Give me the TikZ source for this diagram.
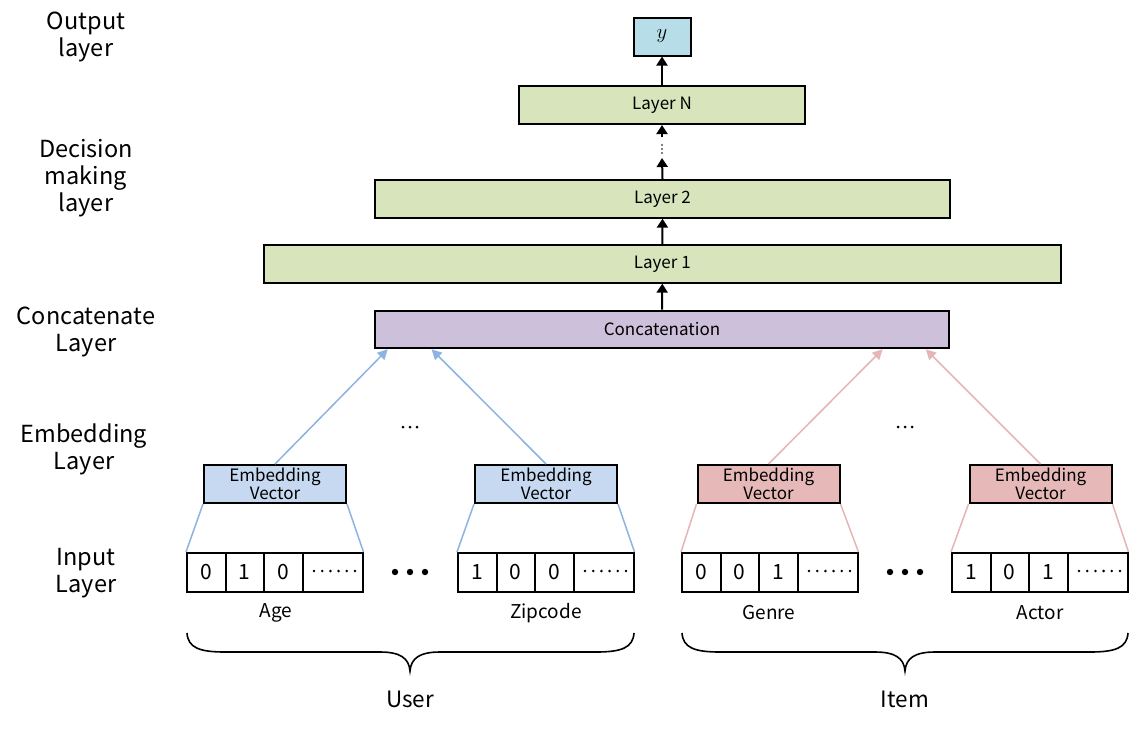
\documentclass[tikz,border=0pt]{standalone}
\usepackage{fontspec}
\setmainfont{Noto Sans CJK KR}
\usetikzlibrary{arrows.meta,calc}
\definecolor{greenbox}{HTML}{D8E4BC}
\definecolor{outbox}{HTML}{B7DEE8}
\definecolor{purplebox}{HTML}{CCC0DA}
\definecolor{embblue}{HTML}{C6D9F1}
\definecolor{embred}{HTML}{E6B9B8}
\definecolor{lineblue}{HTML}{8DB3E2}
\definecolor{linered}{HTML}{E6B5B5}
\begin{document}
\begin{tikzpicture}[x=1pt,y=-1pt,
  box/.style={draw=black,line width=2pt,inner sep=0pt,anchor=center,
    font=\fontsize{17}{19}\selectfont},
  embbox/.style={box,minimum width=142pt,minimum height=38pt,align=center,
    font=\fontsize{17}{18.5}\selectfont},
  cell/.style={draw=black,line width=2pt,inner sep=0pt,minimum height=39pt,
    font=\fontsize{21}{24}\selectfont},
  sidelabel/.style={align=center,inner sep=0pt,font=\fontsize{23.5}{27}\selectfont},
  featlabel/.style={inner sep=0pt,font=\fontsize{19}{21}\selectfont},
  grouplabel/.style={inner sep=0pt,font=\fontsize{22.5}{25}\selectfont},
  blackarrow/.style={draw=black,line width=2pt,-{Triangle[length=9pt,width=11pt]}},
  bluearrow/.style={draw=lineblue,line width=1.5pt,-{Triangle[length=10pt,width=10pt]}},
  redarrow/.style={draw=linered,line width=1.5pt,-{Triangle[length=10pt,width=10pt]}},
  blueline/.style={draw=lineblue,line width=1.5pt},
  redline/.style={draw=linered,line width=1.5pt},
  bracepath/.style={draw=black,line width=1.6pt}
]
\fill[white] (0,0) rectangle (1137,729);
\useasboundingbox (0,0) rectangle (1137,729);

% side labels
\node[sidelabel] (lout) at (86,37) {Output\\layer};
\node[sidelabel] (ldec) at (86,178) {Decision\\making\\layer};
\node[sidelabel] (lcat) at (86,332) {Concatenate\\Layer};
\node[sidelabel] (lemb) at (84,449) {Embedding\\Layer};
\node[sidelabel] (linp) at (86,573) {Input\\Layer};

% main stack
\node[box,fill=outbox,minimum width=57pt,minimum height=38pt,font=\fontsize{21}{24}\selectfont] (y) at (662,36.5) {$y$};
\node[box,fill=greenbox,minimum width=286pt,minimum height=38pt] (ln) at (662,105) {Layer N};
\node[box,fill=greenbox,minimum width=575pt,minimum height=37.7pt] (l2) at (662.5,198.8) {Layer 2};
\node[box,fill=greenbox,minimum width=796.7pt,minimum height=37.7pt] (l1) at (662.3,263.8) {Layer 1};
\node[box,fill=purplebox,minimum width=574pt,minimum height=37.6pt] (concat) at (662,329.5) {Concatenation};

\draw[blackarrow] (ln.north) -- (y.south);
\coordinate (vd1) at (662,137);
\coordinate (vd2) at (662,158);
\draw[blackarrow] (vd1) -- (ln.south);
\draw[blackarrow] (l2.north) -- (vd2);
\foreach \yy in {145,149,153} \fill (662,\yy) circle (0.9);
\draw[blackarrow] (l1.north) -- (l2.south);
\draw[blackarrow] (concat.north) -- (l1.south);

% embedding boxes
\node[embbox,fill=embblue] (e1) at (275,484) {Embedding\\Vector};
\node[embbox,fill=embblue] (e2) at (546,484) {Embedding\\Vector};
\node[embbox,fill=embred] (e3) at (768.5,484) {Embedding\\Vector};
\node[embbox,fill=embred] (e4) at (1040.5,484) {Embedding\\Vector};

\coordinate (t1) at ($(concat.south west)+(13.7,0)$);
\coordinate (t2) at ($(concat.south west)+(57.6,0)$);
\coordinate (t3) at ($(concat.south east)+(-67.4,0)$);
\coordinate (t4) at ($(concat.south east)+(-24.2,0)$);
\draw[bluearrow] (e1.north) -- (t1);
\draw[bluearrow] (e2.north) -- (t2);
\draw[redarrow] (e3.north) -- (t3);
\draw[redarrow] (e4.north) -- (t4);

% small ellipses
\foreach \cx in {410,905}
  \foreach \k in {-7,0,7} \fill (\cx+\k,427) circle (1.5);

% input cells
\foreach \x/\n/\a/\b/\c in {187/age/0/1/0, 458/zip/1/0/0, 682/gen/0/0/1, 952/act/1/0/1}{
  \node[cell,minimum width=38.5pt] (\n1) at (\x+19.25,572.5) {\a};
  \node[cell,minimum width=38.5pt] (\n2) at (\x+57.75,572.5) {\b};
  \node[cell,minimum width=38.5pt] (\n3) at (\x+96.25,572.5) {\c};
  \node[cell,minimum width=60pt] (\n4) at (\x+145.5,572.5) {};
  \foreach \k in {0,...,5} \fill (\x+127+\k*8.2,571) circle (1.4);
}

% big dots between inputs
\foreach \cx in {410,905}
  \foreach \k in {-15,0,15} \fill (\cx+\k,572) circle (3.2);

% trapezoid lines
\draw[blueline] (e1.south west) -- (age1.north west);
\draw[blueline] (e1.south east) -- (age4.north east);
\draw[blueline] (e2.south west) -- (zip1.north west);
\draw[blueline] (e2.south east) -- (zip4.north east);
\draw[redline] (e3.south west) -- (gen1.north west);
\draw[redline] (e3.south east) -- (gen4.north east);
\draw[redline] (e4.south west) -- (act1.north west);
\draw[redline] (e4.south east) -- (act4.north east);

% feature labels
\node[featlabel] (agel) at (276,613) {Age};
\node[featlabel] (zipl) at (546,613) {Zipcode};
\node[featlabel] (genl) at (769,613) {Genre};
\node[featlabel] (actl) at (1040,613) {Actor};

% braces
\draw[bracepath] (187,633) .. controls (188,648) and (200,652) .. (225,652) -- (380,652)
  .. controls (400,652) and (409,658) .. (410,671)
  .. controls (411,658) and (420,652) .. (440,652) -- (596,652)
  .. controls (621,652) and (633,648) .. (634,633);
\draw[bracepath] (682,633) .. controls (683,648) and (695,652) .. (720,652) -- (875,652)
  .. controls (895,652) and (904,658) .. (905,671)
  .. controls (906,658) and (915,652) .. (935,652) -- (1090,652)
  .. controls (1115,652) and (1127,648) .. (1128,633);

\node[grouplabel] (user) at (410,699) {User};
\node[grouplabel] (item) at (905,699) {Item};
\end{tikzpicture}
\end{document}
